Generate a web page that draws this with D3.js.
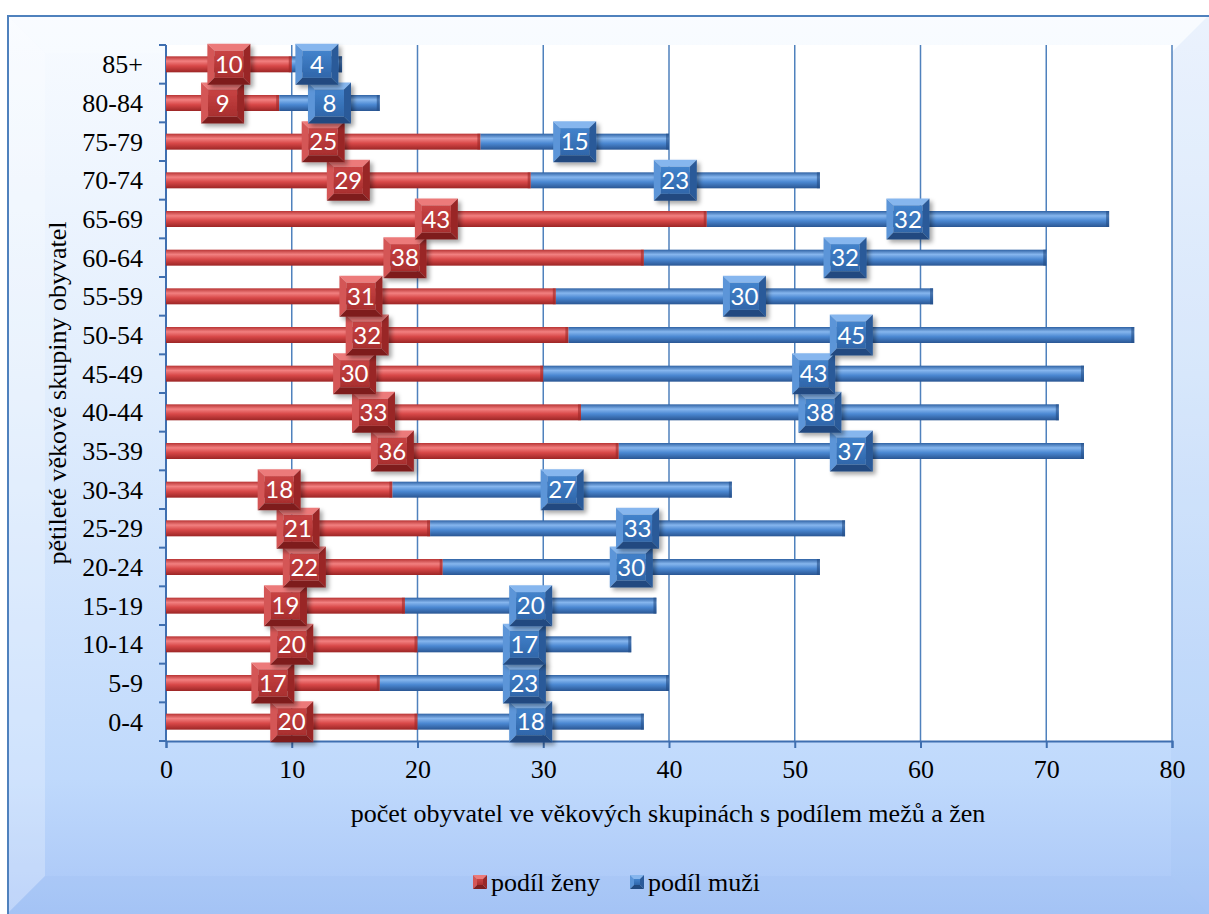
<!DOCTYPE html>
<html>
<head>
<meta charset="utf-8">
<script src="https://cdn.jsdelivr.net/npm/d3@7"></script>
<style>
  body { margin: 0; background: #fff; }
  svg { display: block; }
</style>
</head>
<body>
<svg id="chart" width="1209" height="914"></svg>
<script>
// age groups, listed from bottom (first) to top (last) like the original
const groups = ["0-4", "5-9", "10-14", "15-19", "20-24", "25-29", "30-34", "35-39", "40-44",
  "45-49", "50-54", "55-59", "60-64", "65-69", "70-74", "75-79", "80-84", "85+"];
const women = [20, 17, 20, 19, 22, 21, 18, 36, 33, 30, 32, 31, 38, 43, 29, 25, 9, 10];
const men = [18, 23, 17, 20, 30, 33, 27, 37, 38, 43, 45, 30, 32, 32, 23, 15, 8, 4];
const xTicks = [0, 10, 20, 30, 40, 50, 60, 70, 80];
const seriesNames = ["podíl ženy", "podíl muži"];

const svg = d3.select("#chart");
const W = 1209, H = 914;
const margin = { left: 166, right: 37, top: 45, bottom: 173 };
const serif = "'Liberation Serif', 'Times New Roman', serif";
const fs = 26;

const defs = svg.append("defs");

// frame background
const bg = defs.append("linearGradient").attr("id", "bg").attr("x1", 0).attr("y1", 0).attr("x2", 0).attr("y2", 1);
bg.append("stop").attr("offset", "0").attr("stop-color", "#f8fbff");
bg.append("stop").attr("offset", "0.4").attr("stop-color", "#e2eefd");
bg.append("stop").attr("offset", "0.85").attr("stop-color", "#bfd9fc");
bg.append("stop").attr("offset", "1").attr("stop-color", "#a9c6f7");

function barGrad(id, c) {
  const g = defs.append("linearGradient").attr("id", id).attr("x1", 0).attr("y1", 0).attr("x2", 0).attr("y2", 1);
  g.append("stop").attr("offset", "0").attr("stop-color", c[0]);
  g.append("stop").attr("offset", "0.3").attr("stop-color", c[1]);
  g.append("stop").attr("offset", "0.6").attr("stop-color", c[2]);
  g.append("stop").attr("offset", "1").attr("stop-color", c[3]);
}
barGrad("barRed", ["#b83434", "#f28080", "#d84848", "#9c2626"]);
barGrad("barBlue", ["#2f62a4", "#86b6ee", "#4b88d2", "#2a5693"]);

const shadow = defs.append("filter").attr("id", "shadow").attr("x", "-30%").attr("y", "-30%").attr("width", "170%").attr("height", "170%");
shadow.append("feDropShadow").attr("dx", 3).attr("dy", 3).attr("stdDeviation", 2.2)
  .attr("flood-color", "#000").attr("flood-opacity", 0.35);

// outer frame with soft bevel
const fx = 7, fy = 15, bev = 38;
svg.append("rect").attr("x", fx).attr("y", fy).attr("width", W - fx).attr("height", H - fy).attr("fill", "url(#bg)");
svg.append("polygon").attr("fill", "#ffffff").attr("opacity", 0.25)
  .attr("points", [[fx, fy], [fx + bev, fy + bev], [fx + bev, H - bev], [fx, H]].join(" "));
svg.append("polygon").attr("fill", "#ffffff").attr("opacity", 0.2)
  .attr("points", [[fx, fy], [W, fy], [W - bev, fy + bev], [fx + bev, fy + bev]].join(" "));
svg.append("polygon").attr("fill", "#8fb2ee").attr("opacity", 0.12)
  .attr("points", [[W, fy], [W, H], [W - bev, H - bev], [W - bev, fy + bev]].join(" "));
svg.append("polygon").attr("fill", "#8fb2ee").attr("opacity", 0.15)
  .attr("points", [[fx, H], [fx + bev, H - bev], [W - bev, H - bev], [W, H]].join(" "));
svg.append("line").attr("x1", fx).attr("x2", W).attr("y1", fy + 1).attr("y2", fy + 1)
  .attr("stroke", "#4f81bd").attr("stroke-width", 2);
svg.append("line").attr("x1", fx + 1).attr("x2", fx + 1).attr("y1", fy).attr("y2", H)
  .attr("stroke", "#4f81bd").attr("stroke-width", 2);

const x = d3.scaleLinear().domain([0, 80]).range([margin.left, W - margin.right]);
const y = d3.scaleBand().domain(groups.slice().reverse()).range([margin.top, H - margin.bottom]);
const barH = 16;

// plot area
svg.append("rect").attr("x", x(0)).attr("y", margin.top).attr("width", x(80) - x(0))
  .attr("height", H - margin.bottom - margin.top).attr("fill", "#ffffff");

// gridlines
svg.append("g").selectAll("line").data(xTicks.slice(1)).join("line")
  .attr("x1", d => x(d)).attr("x2", d => x(d))
  .attr("y1", margin.top).attr("y2", H - margin.bottom)
  .attr("stroke", "#4f81bd").attr("stroke-width", 1.5);

// x axis
const xAxis = svg.append("g").attr("transform", `translate(0,${H - margin.bottom})`)
  .call(d3.axisBottom(x).tickValues(xTicks).tickSize(7).tickPadding(12));
xAxis.select(".domain").attr("stroke", "#3f6fb0").attr("stroke-width", 2);
xAxis.selectAll(".tick line").attr("stroke", "#3f6fb0").attr("stroke-width", 2);
xAxis.selectAll("text").attr("font-family", serif).attr("font-size", fs).attr("fill", "#000");

// y axis with ticks between categories
const yAxis = svg.append("g").attr("transform", `translate(${x(0)},0)`);
yAxis.append("line").attr("x1", 0).attr("x2", 0).attr("y1", margin.top).attr("y2", H - margin.bottom)
  .attr("stroke", "#3f6fb0").attr("stroke-width", 2);
const bounds = d3.range(groups.length + 1).map(i => margin.top + i * y.step());
yAxis.selectAll(".tk").data(bounds).join("line").attr("class", "tk")
  .attr("x1", -7).attr("x2", 0).attr("y1", d => d).attr("y2", d => d)
  .attr("stroke", "#3f6fb0").attr("stroke-width", 2);
yAxis.selectAll(".lbl").data(groups).join("text").attr("class", "lbl")
  .attr("x", -23).attr("y", d => y(d) + y.bandwidth() / 2).attr("dy", "0.35em")
  .attr("text-anchor", "end").attr("font-family", serif).attr("font-size", fs).text(d => d);

// bars
const rows = groups.map((g, i) => ({ g, w: women[i], m: men[i] }));
const bars = svg.append("g");
bars.selectAll(".w").data(rows).join("rect").attr("class", "w")
  .attr("x", x(0)).attr("y", d => y(d.g) + y.bandwidth() / 2 - barH / 2)
  .attr("width", d => x(d.w) - x(0)).attr("height", barH).attr("fill", "url(#barRed)");
bars.selectAll(".m").data(rows).join("rect").attr("class", "m")
  .attr("x", d => x(d.w)).attr("y", d => y(d.g) + y.bandwidth() / 2 - barH / 2)
  .attr("width", d => x(d.w + d.m) - x(d.w)).attr("height", barH).attr("fill", "url(#barBlue)");
// bevel edge on bar ends
bars.selectAll(".we").data(rows).join("rect").attr("class", "we")
  .attr("x", d => x(d.w) - 3).attr("y", d => y(d.g) + y.bandwidth() / 2 - barH / 2)
  .attr("width", 3).attr("height", barH).attr("fill", "#9c2626").attr("opacity", 0.6);
bars.selectAll(".me").data(rows).join("rect").attr("class", "me")
  .attr("x", d => x(d.w + d.m) - 3).attr("y", d => y(d.g) + y.bandwidth() / 2 - barH / 2)
  .attr("width", 3).attr("height", barH).attr("fill", "#234d85").attr("opacity", 0.6);

// beveled box helper
const pal = {
  red: { face0: "#c94444", face1: "#a82e2e", top: "#ec7a7a", left: "#d45656", right: "#992828", bottom: "#7e1f1f" },
  blue: { face0: "#4383cc", face1: "#2f66aa", top: "#86b6ee", left: "#5b95d8", right: "#2a5a99", bottom: "#214a80" }
};
["red", "blue"].forEach(k => {
  const g = defs.append("linearGradient").attr("id", "face-" + k).attr("x1", 0).attr("y1", 0).attr("x2", 0).attr("y2", 1);
  g.append("stop").attr("offset", "0").attr("stop-color", pal[k].face0);
  g.append("stop").attr("offset", "1").attr("stop-color", pal[k].face1);
});

function bevelBox(sel, cx, cy, w, h, b, k, filter) {
  const p = pal[k];
  const x0 = cx - w / 2, y0 = cy - h / 2, x1 = cx + w / 2, y1 = cy + h / 2;
  const g = sel.append("g");
  if (filter) g.attr("filter", "url(#shadow)");
  const poly = (pts, c) => g.append("polygon").attr("points", pts.map(q => q.join(",")).join(" ")).attr("fill", c);
  poly([[x0, y0], [x1, y0], [x1 - b, y0 + b], [x0 + b, y0 + b]], p.top);
  poly([[x0, y0], [x0 + b, y0 + b], [x0 + b, y1 - b], [x0, y1]], p.left);
  poly([[x1, y0], [x1, y1], [x1 - b, y1 - b], [x1 - b, y0 + b]], p.right);
  poly([[x0, y1], [x0 + b, y1 - b], [x1 - b, y1 - b], [x1, y1]], p.bottom);
  g.append("rect").attr("x", x0 + b).attr("y", y0 + b).attr("width", w - 2 * b).attr("height", h - 2 * b)
    .attr("fill", `url(#face-${k})`);
  return g;
}

// data labels
const labels = svg.append("g");
const boxW = 43, boxH = 41;
function label(cx, cy, v, k) {
  bevelBox(labels, cx, cy, boxW, boxH, 7, k, true);
  labels.append("text").attr("x", cx).attr("y", cy).attr("dy", "0.36em").attr("text-anchor", "middle")
    .attr("font-family", "Lato, 'Open Sans', sans-serif").attr("font-size", 24).attr("fill", "#fff").text(v);
}
rows.forEach(d => label(x(d.w / 2), y(d.g) + y.bandwidth() / 2, d.w, "red"));
rows.forEach(d => label(x(d.w + d.m / 2), y(d.g) + y.bandwidth() / 2, d.m, "blue"));

// axis titles
svg.append("text").attr("x", 668).attr("y", 822).attr("text-anchor", "middle")
  .attr("font-family", serif).attr("font-size", fs).text("počet obyvatel ve věkových skupinách s podílem mežů a žen");
svg.append("text").attr("transform", `translate(57,${(margin.top + H - margin.bottom) / 2}) rotate(-90)`)
  .attr("dy", "0.35em").attr("text-anchor", "middle").attr("font-family", serif).attr("font-size", fs)
  .text("pětileté věkové skupiny obyvatel");

// legend
const legend = svg.append("g");
const legItems = [{ name: seriesNames[0], k: "red", x: 480 }, { name: seriesNames[1], k: "blue", x: 637 }];
legItems.forEach(it => {
  bevelBox(legend, it.x, 882, 14, 14, 4, it.k, false);
  legend.append("text").attr("x", it.x + 11).attr("y", 882).attr("dy", "0.35em")
    .attr("font-family", serif).attr("font-size", fs).text(it.name);
});
</script>
</body>
</html>
